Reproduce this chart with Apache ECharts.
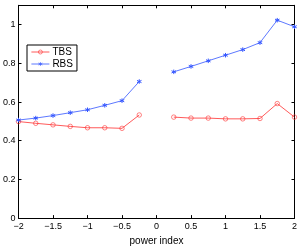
<!DOCTYPE html>
<html><head><meta charset="utf-8">
<script src="https://cdn.jsdelivr.net/npm/echarts@6/dist/echarts.min.js"></script>
<style>html,body{margin:0;padding:0;background:#fff}#c{width:300px;height:251px}</style>
</head><body><div id="c"></div>
<script>
const xVals = [-2, -1.75, -1.5, -1.25, -1, -0.75, -0.5, -0.25, 0.25, 0.5, 0.75, 1, 1.25, 1.5, 1.75, 2];
const tbs = [0.499, 0.490, 0.482, 0.474, 0.467, 0.467, 0.464, 0.533, 0.522, 0.517, 0.517, 0.513, 0.513, 0.515, 0.592, 0.522];
const rbs = [0.507, 0.517, 0.530, 0.545, 0.560, 0.583, 0.607, 0.706, 0.756, 0.784, 0.813, 0.842, 0.871, 0.907, 1.023, 0.989];
const seriesNames = ['TBS', 'RBS'];
const xTitle = 'power index';

function withGap(ys) {
  const out = [];
  xVals.forEach((x, i) => {
    if (i > 0 && xVals[i - 1] < 0 && x > 0) out.push([0, '-']);
    out.push([x, ys[i]]);
  });
  return out;
}
const font = 'Liberation Sans, Arial, sans-serif';
const fmt = v => String(v).replace('-', '\u2212');
const chart = echarts.init(document.getElementById('c'), null, {renderer: 'canvas'});
const axLine = {show: true, onZero: false, lineStyle: {color: '#000', width: 1}};
const tick = {show: true, inside: true, length: 3, lineStyle: {color: '#000'}};
chart.setOption({
  animation: false,
  grid: {left: 15, right: 5.5, top: 5.3, bottom: 25, containLabel: false},
  legend: {
    left: 27, top: 45, orient: 'vertical', itemGap: 2, itemWidth: 18, itemHeight: 5,
    padding: [2, 4, 2, 4], borderColor: '#000', borderWidth: 1, backgroundColor: '#fff',
    textStyle: {fontFamily: font, fontSize: 10, color: '#000', padding: [0, 0, 0, -2]},
    lineStyle: {width: 0.8},
    itemStyle: {borderWidth: 0.6},
    data: seriesNames
  },
  xAxis: [{
    type: 'value', min: -2, max: 2, interval: 0.5,
    name: xTitle, nameLocation: 'middle', nameGap: 15,
    nameTextStyle: {fontFamily: font, fontSize: 10, color: '#000'},
    axisLine: axLine, axisTick: tick, splitLine: {show: false},
    axisLabel: {fontFamily: font, fontSize: 9, color: '#000', margin: 4, formatter: fmt}
  }, {
    type: 'value', min: -2, max: 2, interval: 0.5, position: 'top',
    axisLine: axLine, axisTick: tick, splitLine: {show: false}, axisLabel: {show: false}
  }],
  yAxis: [{
    type: 'value', min: 0, max: 1.1, interval: 0.2,
    axisLine: axLine, axisTick: tick, splitLine: {show: false},
    axisLabel: {fontFamily: font, fontSize: 9, color: '#000', margin: 3, showMaxLabel: false}
  }, {
    type: 'value', min: 0, max: 1.1, interval: 0.2, position: 'right',
    axisLine: axLine, axisTick: tick, splitLine: {show: false}, axisLabel: {show: false}
  }],
  series: [{
    name: seriesNames[0], type: 'line', data: withGap(tbs), connectNulls: false,
    symbol: 'circle', symbolSize: 4.5,
    lineStyle: {color: '#ff3030', width: 0.8},
    itemStyle: {color: 'rgba(255,255,255,0)', borderColor: '#ff3030', borderWidth: 0.6}
  }, {
    name: seriesNames[1], type: 'line', data: withGap(rbs), connectNulls: false,
    symbol: 'path://M0,-1L0,1M-0.87,-0.5L0.87,0.5M-0.87,0.5L0.87,-0.5', symbolSize: 4.5,
    lineStyle: {color: '#3355ff', width: 0.8},
    itemStyle: {color: '#3355ff', borderColor: '#3355ff', borderWidth: 1}
  }]
});
</script></body></html>
